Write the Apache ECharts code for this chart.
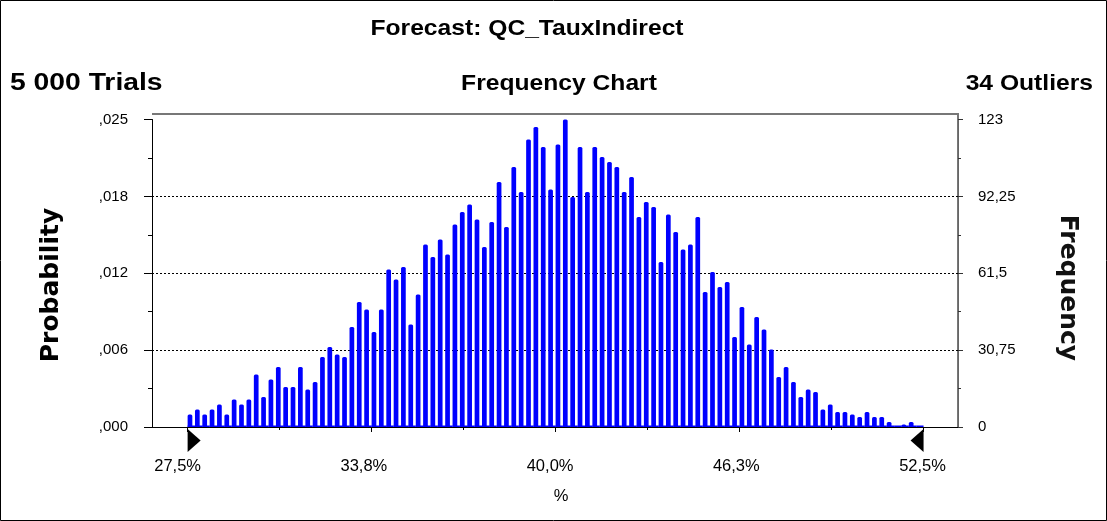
<!DOCTYPE html>
<html>
<head>
<meta charset="utf-8">
<title>Forecast: QC_TauxIndirect</title>
<script src="https://cdn.jsdelivr.net/npm/echarts@6/dist/echarts.min.js"></script>
<style>
  html, body { margin: 0; padding: 0; background: #ffffff; }
  #chart { width: 1107px; height: 521px; }
</style>
</head>
<body>
<div id="chart"></div>
<script>
// Forecast histogram: 100 frequency bins between the display range bounds
const forecastName = 'QC_TauxIndirect';
const trials = 5000;
const outliers = 34;
const rangeMin = 27.5;
const rangeMax = 52.5;

const frequencies = [
  5, 7, 5, 7, 9, 5, 11, 9, 11, 21,
  12, 19, 24, 16, 16, 24, 15, 18, 28, 32,
  29, 28, 40, 50, 47, 38, 47, 63, 59, 64,
  41, 53, 73, 68, 75, 69, 81, 86, 89, 83,
  72, 82, 98, 80, 104, 94, 115, 120, 112, 95,
  113, 123, 92, 112, 94, 112, 108, 106, 104, 94,
  100, 84, 90, 88, 66, 85, 78, 71, 73, 84,
  54, 62, 56, 58, 36, 48, 33, 44, 39, 31,
  20, 24, 18, 12, 15, 14, 7, 9, 6, 6,
  5, 4, 6, 4, 4, 2, 0, 1, 2, 0
];

// Frequency axis: 0 .. 123 in quarters
const freqMax = 123;
const freqStep = 30.75;

// Percent axis ticks and labels
const xTickValues = [27.5, 33.75, 40, 46.25, 52.5];
const xTickLabels = ['27,5%', '33,8%', '40,0%', '46,3%', '52,5%'];
const xMinorTickValues = [30.625, 36.875, 43.125, 49.375];
// the tick scale and the (slightly wider) label scale
const xAxisMin = 26.29;
const xAxisMax = 53.67;
const xLabelAxisMin = 26.64;
const xLabelAxisMax = 53.69;

const binWidth = (rangeMax - rangeMin) / frequencies.length;
const binData = frequencies.map((f, i) => [rangeMin + i * binWidth, f]);

function groupThousands(n) {
  return String(n).replace(/\B(?=(\d{3})+(?!\d))/g, ' ');
}
function probLabel(v) {
  return (v / trials).toFixed(3).replace(/^0\./, ',');
}
function freqLabel(v) {
  return String(v).replace('.', ',');
}

const fontStack = '"Liberation Sans", Arial, sans-serif';
const labelFont = { color: '#000', fontSize: 15, fontFamily: fontStack };
const xLabelFont = { color: '#000', fontSize: 16.5, fontFamily: fontStack };
const headFont = 'bold 22px ' + fontStack;
const axisTitleFont = 'bold 25px "DejaVu Sans", sans-serif';

const chart = echarts.init(document.getElementById('chart'), null, { renderer: 'canvas' });

chart.setOption({
  animation: false,
  backgroundColor: '#ffffff',
  grid: { left: 152, right: 149, top: 119.5, bottom: 94, containLabel: false },
  xAxis: [
    {
      type: 'value',
      min: xAxisMin,
      max: xAxisMax,
      axisLine: { show: true, onZero: false, lineStyle: { color: '#000', width: 1 } },
      axisTick: { show: true, customValues: xTickValues, length: 5, lineStyle: { color: '#000' } },
      axisLabel: { show: false },
      splitLine: { show: false }
    },
    {
      type: 'value',
      min: xAxisMin,
      max: xAxisMax,
      position: 'bottom',
      axisLine: { show: false },
      axisTick: { show: true, customValues: xMinorTickValues, length: 3, lineStyle: { color: '#000' } },
      axisLabel: { show: false },
      splitLine: { show: false }
    },
    {
      type: 'value',
      min: xLabelAxisMin,
      max: xLabelAxisMax,
      position: 'bottom',
      axisLine: { show: false },
      axisTick: { show: false },
      axisLabel: Object.assign({
        customValues: xTickValues,
        margin: 31,
        formatter: v => xTickLabels[xTickValues.indexOf(v)]
      }, xLabelFont),
      splitLine: { show: false },
      name: '%',
      nameLocation: 'middle',
      nameGap: 61,
      nameTextStyle: Object.assign({ padding: [0, 0, 0, 12] }, xLabelFont)
    }
  ],
  yAxis: [
    {
      type: 'value',
      position: 'left',
      min: 0,
      max: freqMax,
      interval: freqStep,
      axisLine: { show: true, lineStyle: { color: '#000', width: 1 } },
      axisTick: { show: true, length: 8, lineStyle: { color: '#000' } },
      minorTick: { show: true, splitNumber: 2, length: 4, lineStyle: { color: '#000' } },
      axisLabel: Object.assign({ margin: 24, formatter: probLabel }, labelFont),
      splitLine: {
        show: true,
        showMinLine: false,
        showMaxLine: false,
        lineStyle: { color: '#000', width: 1, type: [2, 2] }
      }
    },
    {
      type: 'value',
      position: 'right',
      min: 0,
      max: freqMax,
      interval: freqStep,
      axisLine: { show: true, lineStyle: { color: '#666', width: 1 } },
      axisTick: { show: true, length: 5, lineStyle: { color: '#333' } },
      minorTick: { show: true, splitNumber: 2, length: 3, lineStyle: { color: '#333' } },
      axisLabel: Object.assign({ margin: 20, formatter: freqLabel }, labelFont),
      splitLine: { show: false }
    }
  ],
  series: [
    {
      type: 'custom',
      name: 'Frequency',
      xAxisIndex: 0,
      yAxisIndex: 1,
      data: binData,
      encode: { x: 0, y: 1 },
      renderItem: function (params, api) {
        const x0 = api.value(0);
        const f = api.value(1);
        const top = api.coord([x0, f]);
        const base = api.coord([x0, 0]);
        const bw = api.size([binWidth, 0])[0];
        const children = [{
          type: 'rect',
          shape: { x: base[0], y: base[1] - 1.5, width: bw, height: 1.5 },
          style: { fill: '#0000ff' }
        }];
        if (f > 0) {
          children.push({
            type: 'rect',
            shape: { x: top[0], y: top[1], width: bw * 0.64, height: base[1] - top[1], r: [1.5, 1.5, 0, 0] },
            style: { fill: '#0000ff' }
          });
        }
        return { type: 'group', children: children };
      },
      z: 3
    },
    {
      // display range markers under the percent axis
      type: 'scatter',
      xAxisIndex: 0,
      yAxisIndex: 1,
      clip: false,
      silent: true,
      symbolSize: [13, 23],
      itemStyle: { color: '#000', opacity: 1 },
      data: [
        { value: [rangeMin, 0], symbol: 'path://M0,0L13,11.5L0,23Z', symbolOffset: [6.5, 13.5] },
        { value: [rangeMax, 0], symbol: 'path://M13,0L0,11.5L13,23Z', symbolOffset: [-6.5, 13.5] }
      ],
      z: 5
    }
  ],
  graphic: [
    {
      type: 'rect',
      silent: true,
      shape: { x: 0.5, y: 0.5, width: 1106, height: 520 },
      style: { fill: null, stroke: '#000', lineWidth: 1 }
    },
    {
      type: 'polyline',
      silent: true,
      shape: { points: [[152, 114], [958, 114], [958, 427]] },
      style: { fill: null, stroke: '#777', lineWidth: 2 }
    },
    {
      type: 'text', x: 527, y: 29, scaleX: 1.12, silent: true,
      style: { text: 'Forecast: ' + forecastName, font: headFont, fill: '#000',
               textAlign: 'center', align: 'center', textVerticalAlign: 'middle', verticalAlign: 'middle' }
    },
    {
      type: 'text', x: 10, y: 83.5, scaleX: 1.23, silent: true,
      style: { text: groupThousands(trials) + ' Trials', font: 'bold 23px ' + fontStack, fill: '#000',
               textAlign: 'left', align: 'left', textVerticalAlign: 'middle', verticalAlign: 'middle' }
    },
    {
      type: 'text', x: 559, y: 83.5, scaleX: 1.12, silent: true,
      style: { text: 'Frequency Chart', font: headFont, fill: '#000',
               textAlign: 'center', align: 'center', textVerticalAlign: 'middle', verticalAlign: 'middle' }
    },
    {
      type: 'text', x: 1093, y: 83.5, scaleX: 1.12, silent: true,
      style: { text: outliers + ' Outliers', font: headFont, fill: '#000',
               textAlign: 'right', align: 'right', textVerticalAlign: 'middle', verticalAlign: 'middle' }
    },
    {
      type: 'text', x: 51, y: 285, rotation: Math.PI / 2, silent: true,
      style: { text: 'Probability', font: axisTitleFont, fill: '#000',
               textAlign: 'center', align: 'center', textVerticalAlign: 'middle', verticalAlign: 'middle' }
    },
    {
      type: 'text', x: 1067, y: 288, rotation: -Math.PI / 2, silent: true,
      style: { text: 'Frequency', font: axisTitleFont, fill: '#111',
               textAlign: 'center', align: 'center', textVerticalAlign: 'middle', verticalAlign: 'middle' }
    }
  ]
});
</script>
</body>
</html>
